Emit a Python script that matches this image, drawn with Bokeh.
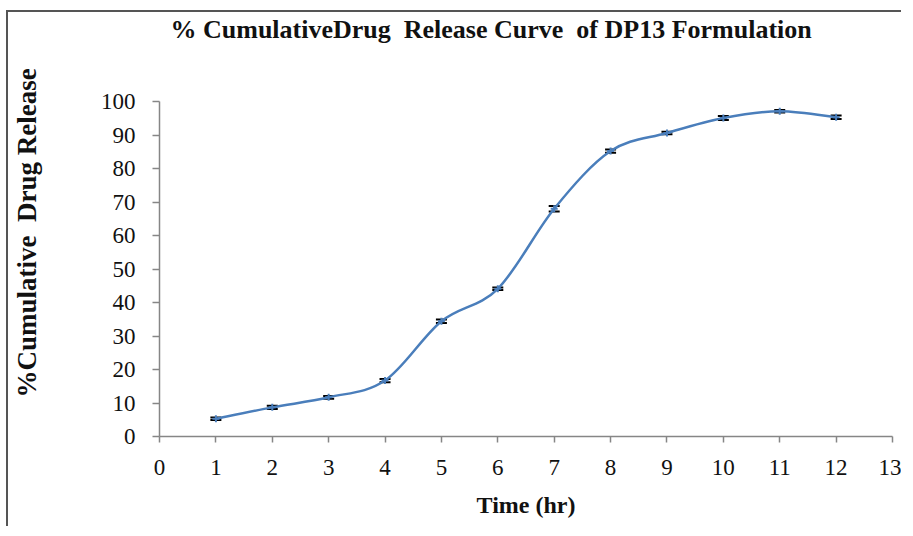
import numpy as np
from bokeh.plotting import figure
from bokeh.models import Range1d, FixedTicker, Whisker, ColumnDataSource, Title, TeeHead
from bokeh.embed import file_html
from bokeh.resources import INLINE

# ---- data ----
time_hr = [1, 2, 3, 4, 5, 6, 7, 8, 9, 10, 11, 12]
release = [5.3, 8.7, 11.7, 16.7, 34.4, 44.1, 68.0, 85.2, 90.6, 95.1, 97.1, 95.3]
error = [0.4, 0.5, 0.4, 0.5, 0.5, 0.4, 0.8, 0.5, 0.4, 0.6, 0.4, 0.5]
x_ticks = list(range(0, 14))
y_ticks = list(range(0, 101, 10))

title_text = "% CumulativeDrug\u00a0 Release Curve\u00a0 of DP13 Formulation"
x_label = "Time (hr)"
y_label = "%Cumulative\u00a0 Drug Release"

SERIF = "Liberation Serif"
LINE = "#4a7ebb"

p = figure(width=895, height=516, output_backend="svg", toolbar_location=None,
           x_range=Range1d(0, 13), y_range=Range1d(0, 100),
           min_border_left=151, min_border_right=11, min_border_top=89, min_border_bottom=92)
p.styles = {"border-top": "2px solid #555555", "border-left": "2px solid #555555",
            "margin-top": "10px", "margin-left": "6px"}
p.outline_line_color = None
p.xgrid.visible = False
p.ygrid.visible = False
p.background_fill_color = "white"
p.border_fill_color = "white"

for ax, ticks in ((p.xaxis[0], x_ticks), (p.yaxis[0], y_ticks)):
    ax.ticker = FixedTicker(ticks=ticks)
    ax.axis_line_color = "#868686"
    ax.axis_line_width = 1.5
    ax.major_tick_line_color = "#868686"
    ax.major_tick_line_width = 1.5
    ax.major_tick_in = 0
    ax.minor_tick_line_color = None
    ax.major_label_text_font = SERIF
    ax.major_label_text_font_size = "23px"
    ax.major_label_text_color = "#111111"

p.xaxis.major_tick_out = 6
p.yaxis.major_tick_out = 7
p.xaxis.major_label_standoff = 17
p.yaxis.major_label_standoff = 17
p.xaxis.axis_label = x_label
p.xaxis.axis_label_text_font = SERIF
p.xaxis.axis_label_text_font_style = "bold"
p.xaxis.axis_label_text_font_size = "24px"
p.xaxis.axis_label_text_color = "#111111"
p.xaxis.axis_label_standoff = 14

# spacers (blank panels) push the titles away from the frame
p.add_layout(Title(text=" ", text_font_size="10px", standoff=43), "left")
ytitle = Title(text=y_label, align="left", offset=39, standoff=0,
               text_font=SERIF, text_font_style="bold", text_font_size="27px", text_color="#111111")
p.add_layout(ytitle, "left")

p.add_layout(Title(text=" ", text_font_size="10px", standoff=45), "above")
t = Title(text=title_text, align="left", offset=11, standoff=0,
          text_font=SERIF, text_font_style="bold", text_font_size="26px", text_color="#111111")
p.add_layout(t, "above")

# smooth (Excel-like) curve through the points: cubic Bezier segments
xs = np.array(time_hr, dtype=float)
ys = np.array(release, dtype=float)
xp = np.concatenate([[xs[0]], xs, [xs[-1]]])
yp = np.concatenate([[ys[0]], ys, [ys[-1]]])
n = len(xs)
x0 = xs[:-1]; y0 = ys[:-1]; x1 = xs[1:]; y1 = ys[1:]
cx0 = x0 + (xp[2:n + 1] - xp[0:n - 1]) / 6
cy0 = y0 + (yp[2:n + 1] - yp[0:n - 1]) / 6
cx1 = x1 - (xp[3:n + 2] - xp[1:n]) / 6
cy1 = y1 - (yp[3:n + 2] - yp[1:n]) / 6
p.bezier(x0=x0, y0=y0, x1=x1, y1=y1, cx0=cx0, cy0=cy0, cx1=cx1, cy1=cy1,
         line_color=LINE, line_width=2.5)

src = ColumnDataSource(dict(x=time_hr, y=release,
                            lo=[r - e for r, e in zip(release, error)],
                            hi=[r + e for r, e in zip(release, error)]))
w = Whisker(base="x", upper="hi", lower="lo", source=src, line_color="black", line_width=1,
            upper_head=TeeHead(size=11, line_color="black", line_width=2),
            lower_head=TeeHead(size=11, line_color="black", line_width=2))
p.add_layout(w)
p.scatter("x", "y", source=src, marker="cross", size=7, line_color=LINE, line_width=2)

open("out.html", "w").write(file_html(p, INLINE))
